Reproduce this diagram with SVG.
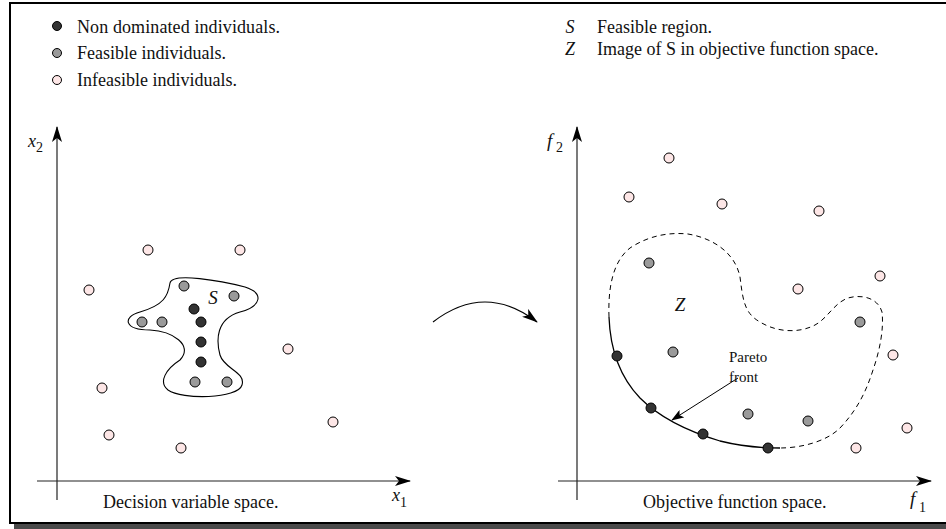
<svg xmlns="http://www.w3.org/2000/svg" width="946" height="529" viewBox="0 0 946 529">
<style>
text{font-family:"Liberation Serif","Times New Roman",serif;fill:#111}
.lg{font-size:18px}
.it{font-style:italic}
.ax{stroke:#222;stroke-width:1.2;fill:none}
.nd{fill:#333;stroke:#000;stroke-width:1}
.fe{fill:#9a9a9a;stroke:#000;stroke-width:1}
.inf{fill:#fde6e6;stroke:#000;stroke-width:1}
</style>
<defs>
<marker id="ah" viewBox="0 0 16 10" refX="15" refY="5" markerWidth="16" markerHeight="10" markerUnits="userSpaceOnUse" orient="auto">
<path d="M0,0 L16,5 L0,10 L4,5 Z" fill="#000"/>
</marker>
<marker id="ahs" viewBox="0 0 14 10" refX="13" refY="5" markerWidth="13" markerHeight="9" markerUnits="userSpaceOnUse" orient="auto">
<path d="M0,0 L14,5 L0,10 L3,5 Z" fill="#000"/>
</marker>
</defs>
<rect x="0" y="0" width="946" height="529" fill="#fff"/>
<g id="frame">
<rect x="14" y="524" width="940" height="5" fill="#4a4a4a"/>
<rect x="10" y="3" width="945" height="520" fill="none" stroke="#000" stroke-width="2"/>
</g>
<g id="legend-left">
<circle cx="57" cy="26" r="4.5" class="nd"/>
<text x="77" y="32.5" class="lg" textLength="203" lengthAdjust="spacing">Non dominated individuals.</text>
<circle cx="57" cy="53" r="4.5" class="fe"/>
<text x="77" y="59" class="lg">Feasible individuals.</text>
<circle cx="57" cy="80" r="4.5" class="inf"/>
<text x="77" y="86" class="lg">Infeasible individuals.</text>
</g>
<g id="legend-right">
<text x="570" y="33" class="lg it" text-anchor="middle">S</text>
<text x="597" y="33" class="lg">Feasible region.</text>
<text x="570" y="55" class="lg it" text-anchor="middle">Z</text>
<text x="597" y="55" class="lg">Image of S in objective function space.</text>
</g>
<g id="axes-left">
<line x1="57" y1="500" x2="57" y2="127" class="ax" marker-end="url(#ah)"/>
<line x1="37" y1="481" x2="410" y2="481" class="ax" marker-end="url(#ah)"/>
<text x="28" y="147" class="it" font-size="18">x</text>
<text x="36" y="152" font-size="14">2</text>
<text x="392" y="501" class="it" font-size="18">x</text>
<text x="400" y="507" font-size="14">1</text>
<text x="103" y="508" class="lg">Decision variable space.</text>
</g>
<g id="axes-right">
<line x1="577" y1="500" x2="577" y2="127" class="ax" marker-end="url(#ah)"/>
<line x1="558" y1="481" x2="931" y2="481" class="ax" marker-end="url(#ah)"/>
<text x="547" y="147" class="it" font-size="19">f</text>
<text x="556" y="152" font-size="14">2</text>
<text x="910" y="505" class="it" font-size="19">f</text>
<text x="919" y="512" font-size="14">1</text>
<text x="643" y="508" class="lg">Objective function space.</text>
</g>
<g id="region-S">
<path d="M170,283 C172,272 222,281 245,287 C264,293 262,306 240,312 C216,319 216,340 220,355 C224,369 246,372 242,385 C238,399 182,400 168,390 C158,382 166,369 180,360 C194,345 172,331 150,330 C124,330 122,317 140,312 C164,305 168,296 170,283 Z" fill="none" stroke="#000" stroke-width="1.1"/>
<text x="213" y="304" class="it" font-size="19" text-anchor="middle">S</text>
</g>
<g id="points-left">
<circle cx="148" cy="250" r="5" class="inf"/>
<circle cx="240" cy="250" r="5" class="inf"/>
<circle cx="89" cy="290" r="5" class="inf"/>
<circle cx="288" cy="349" r="5" class="inf"/>
<circle cx="102" cy="388" r="5" class="inf"/>
<circle cx="109" cy="435" r="5" class="inf"/>
<circle cx="181" cy="448" r="5" class="inf"/>
<circle cx="333" cy="422" r="5" class="inf"/>
<circle cx="184" cy="286" r="5" class="fe"/>
<circle cx="234" cy="296" r="5" class="fe"/>
<circle cx="142" cy="322" r="5" class="fe"/>
<circle cx="162" cy="322" r="5" class="fe"/>
<circle cx="195" cy="382" r="5" class="fe"/>
<circle cx="227" cy="382" r="5" class="fe"/>
<circle cx="194" cy="309" r="5" class="nd"/>
<circle cx="201" cy="322" r="5" class="nd"/>
<circle cx="201" cy="342" r="5" class="nd"/>
<circle cx="201" cy="362" r="5" class="nd"/>
</g>
<g id="connectors">
<path d="M433,322 Q485,282 537,322" fill="none" stroke="#000" stroke-width="1.1" marker-end="url(#ah)"/>
<line x1="738" y1="378" x2="672" y2="420" stroke="#000" stroke-width="1" marker-end="url(#ahs)"/>
</g>
<g id="region-Z">
<path d="M609,317 C608,290 612,262 630,248 C648,236 668,232 688,234 C712,238 735,252 740,277 C743,300 744,313 760,322 C778,333 800,333 815,325 C828,318 834,303 848,298 C862,294 878,298 882,312 C884,328 880,350 873,370 C866,392 857,410 840,428 C826,442 800,448 780,448" fill="none" stroke="#000" stroke-width="1" stroke-dasharray="5,4"/>
<path d="M609,317 C610,345 618,375 640,398 C660,418 690,432 720,441 C740,446 760,448 780,448" fill="none" stroke="#000" stroke-width="1.3"/>
<text x="680" y="311" class="it" font-size="19" text-anchor="middle">Z</text>
<text x="729" y="362" font-size="15">Pareto</text>
<text x="729" y="382" font-size="15">front</text>
</g>
<g id="points-right">
<circle cx="669" cy="158" r="5" class="inf"/>
<circle cx="629" cy="197" r="5" class="inf"/>
<circle cx="722" cy="204" r="5" class="inf"/>
<circle cx="819" cy="211" r="5" class="inf"/>
<circle cx="880" cy="276" r="5" class="inf"/>
<circle cx="798" cy="289" r="5" class="inf"/>
<circle cx="893" cy="355" r="5" class="inf"/>
<circle cx="907" cy="428" r="5" class="inf"/>
<circle cx="856" cy="448" r="5" class="inf"/>
<circle cx="649" cy="263" r="5" class="fe"/>
<circle cx="860" cy="322" r="5" class="fe"/>
<circle cx="673" cy="352" r="5" class="fe"/>
<circle cx="748" cy="414" r="5" class="fe"/>
<circle cx="808" cy="421" r="5" class="fe"/>
<circle cx="617" cy="356" r="5" class="nd"/>
<circle cx="651" cy="408" r="5" class="nd"/>
<circle cx="703" cy="434" r="5" class="nd"/>
<circle cx="768" cy="448" r="5" class="nd"/>
</g>
</svg>
